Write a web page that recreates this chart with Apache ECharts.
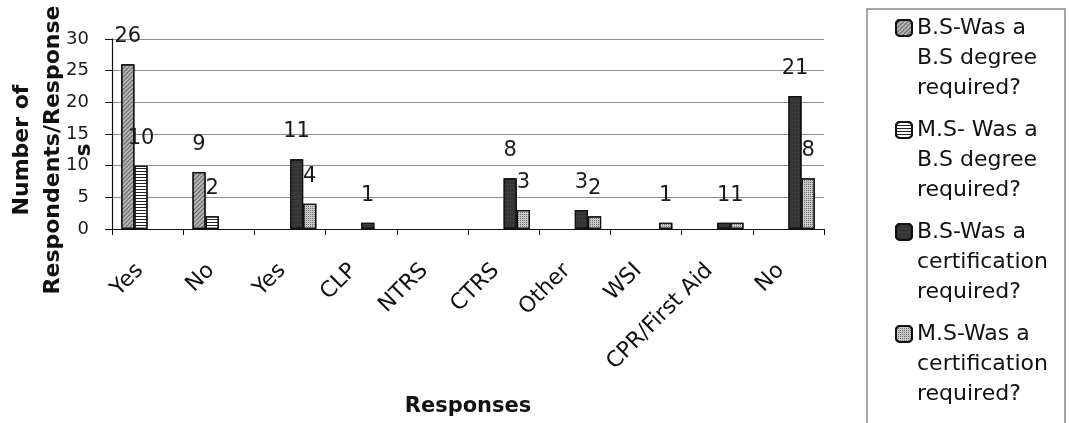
<!DOCTYPE html>
<html>
<head>
<meta charset="utf-8">
<title>Degree and certification requirements</title>
<script src="https://cdn.jsdelivr.net/npm/echarts@6/dist/echarts.min.js"></script>
<style>
  html, body { margin: 0; padding: 0; background: #fff; }
  #chart { width: 1069px; height: 423px; }
</style>
</head>
<body>
<div id="chart"></div>
<script>
// categories along the x axis (the first two belong to the degree question)
const categories = ['Yes', 'No', 'Yes', 'CLP', 'NTRS', 'CTRS', 'Other', 'WSI', 'CPR/First Aid', 'No']
const yTicks = [0, 5, 10, 15, 20, 25, 30]

const seriesNames = [
  'B.S-Was a B.S degree required?',
  'M.S- Was a B.S degree required?',
  'B.S-Was a certification required?',
  'M.S-Was a certification required?'
]
// wrapped the way the legend box shows them
const legendLines = [
  ['B.S-Was a', 'B.S degree', 'required?'],
  ['M.S- Was a', 'B.S degree', 'required?'],
  ['B.S-Was a', 'certification', 'required?'],
  ['M.S-Was a', 'certification', 'required?']
]

// blank cells are null, so no bar and no label
const bsDegree = [26, 9, null, null, null, null, null, null, null, null]
const msDegree = [10, 2, null, null, null, null, null, null, null, null]
const bsCert = [null, null, 11, 1, null, 8, 3, null, 1, 21]
const msCert = [null, null, 4, null, null, 3, 2, 1, 1, 8]

const chart = echarts.init(document.getElementById('chart'))

const labelStyle = {
  show: true,
  position: 'top',
  distance: 17,
  fontSize: 21,
  color: '#1a1a1a'
}

function makeSeries (name, data, fill, decal) {
  return {
    name: name,
    type: 'bar',
    data: data,
    barGap: '0%',
    barCategoryGap: '26%',
    itemStyle: {
      color: fill,
      borderColor: '#111',
      borderWidth: 1.2,
      decal: decal
    },
    label: labelStyle
  }
}

const option = {
  animation: false,
  backgroundColor: '#fff',
  textStyle: { fontFamily: 'DejaVu Sans' },
  grid: {
    left: 112,
    right: 245,
    top: 39,
    bottom: 194,
    containLabel: false,
    outerBoundsMode: 'none'
  },
  legend: {
    orient: 'vertical',
    left: 895,
    top: -47,
    height: 600,
    padding: 0,
    itemGap: -48,
    itemWidth: 16,
    itemHeight: 16,
    data: seriesNames,
    // two blank lines on top so the icon sits beside the first text line
    formatter: function (name) {
      return '\n\n' + legendLines[seriesNames.indexOf(name)].join('\n')
    },
    textStyle: {
      fontSize: 22,
      lineHeight: 30,
      color: '#111'
    }
  },
  graphic: [
    {
      type: 'rect',
      shape: { x: 867, y: 9, width: 198, height: 430 },
      style: { fill: 'none', stroke: '#888', lineWidth: 1.5 },
      z: -1
    }
  ],
  xAxis: {
    type: 'category',
    data: categories,
    name: 'Responses',
    nameLocation: 'middle',
    nameGap: 167,
    nameMoveOverlap: false,
    nameTextStyle: { fontSize: 21, fontWeight: 'bold', color: '#111' },
    axisLine: { lineStyle: { color: '#111', width: 1.2 } },
    axisTick: { show: true, interval: 0, length: 6, lineStyle: { color: '#111' } },
    axisLabel: {
      interval: 0,
      rotate: 45,
      margin: 46,
      fontSize: 22,
      lineHeight: 22,
      verticalAlign: 'bottom',
      color: '#111'
    }
  },
  yAxis: {
    type: 'value',
    min: yTicks[0],
    max: yTicks[yTicks.length - 1],
    interval: 5,
    name: 'Number of\nRespondents/Response\ns',
    nameLocation: 'middle',
    nameGap: 12,
    nameMoveOverlap: false,
    nameTextStyle: {
      fontSize: 22,
      fontWeight: 'bold',
      lineHeight: 31,
      color: '#111',
      padding: [0, 32, 0, 0]
    },
    axisLine: { show: true, lineStyle: { color: '#111', width: 1.2 } },
    axisTick: { show: true, length: 7, lineStyle: { color: '#111' } },
    axisLabel: { fontSize: 18, margin: 23, color: '#1a1a1a' },
    splitLine: { lineStyle: { color: '#8c8c8c', width: 1 } }
  },
  series: [
    makeSeries(seriesNames[0], bsDegree, '#b4b4b4', {
      symbol: 'rect', symbolSize: 1, color: 'rgba(40,40,40,0.55)',
      dashArrayX: [1, 0], dashArrayY: [1, 2], rotation: -Math.PI / 4
    }),
    makeSeries(seriesNames[1], msDegree, '#ffffff', {
      symbol: 'rect', symbolSize: 1, color: '#222',
      dashArrayX: [1, 0], dashArrayY: [1, 2], rotation: 0
    }),
    makeSeries(seriesNames[2], bsCert, '#353535', {
      symbol: 'rect', symbolSize: 1, color: 'rgba(120,120,120,0.35)',
      dashArrayX: [1, 2], dashArrayY: [1, 3], rotation: 0
    }),
    makeSeries(seriesNames[3], msCert, '#c9c9c9', {
      symbol: 'rect', symbolSize: 1, color: 'rgba(50,50,50,0.6)',
      dashArrayX: [1, 1], dashArrayY: [1, 1], rotation: 0
    })
  ]
}

chart.setOption(option)
window.onresize = () => {
  chart.resize()
}
</script>
</body>
</html>
